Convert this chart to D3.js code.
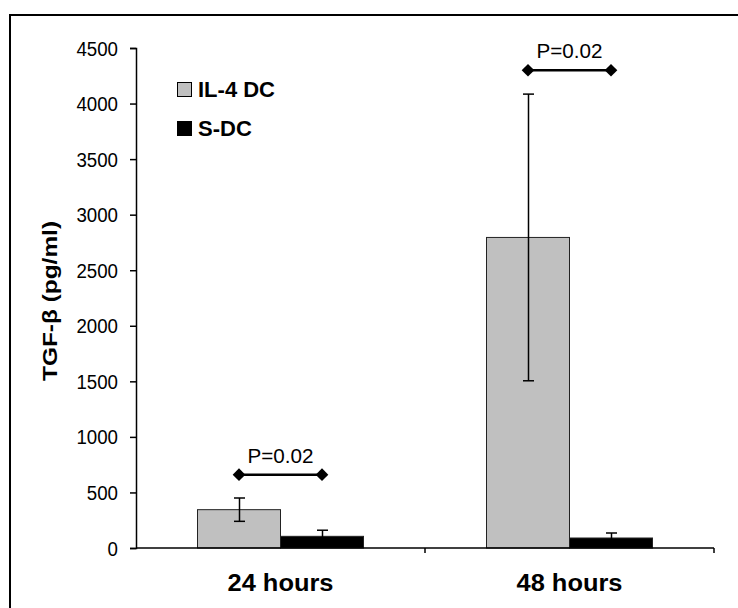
<!DOCTYPE html>
<html>
<head>
<meta charset="utf-8">
<script src="https://cdn.jsdelivr.net/npm/d3@7"></script>
<style>
  html, body { margin: 0; padding: 0; background: #fff; }
  svg { display: block; }
  text { font-family: Arial, "Liberation Sans", sans-serif; fill: #000; }
</style>
</head>
<body>
<script>
// TGF-β secretion by IL-4 DC and S-DC at 24 and 48 hours
const categories = ["24 hours", "48 hours"];
const seriesNames = ["IL-4 DC", "S-DC"];
const il4Values = [345, 2795];
const il4Errors = [105, 1290];
const sdcValues = [105, 90];
const sdcErrors = [55, 45];
const yTicks = [0, 500, 1000, 1500, 2000, 2500, 3000, 3500, 4000, 4500];
const pLabels = ["P=0.02", "P=0.02"];
const pLevels = [660, 4300];

const W = 738, H = 608;
const svg = d3.select("body").append("svg").attr("width", W).attr("height", H);

// frame (top and left edges)
svg.append("path")
  .attr("d", `M10,${H} L10,15 L${W},15`)
  .attr("fill", "none").attr("stroke", "#000").attr("stroke-width", 2);

const x0 = 136, x1 = 714, yBase = 548, yTop = 48;
const x = d3.scaleBand().domain(categories).range([x0, x1]).paddingInner(0).paddingOuter(0);
const xs = d3.scaleBand().domain(seriesNames).range([0, x.bandwidth()]).paddingInner(0).paddingOuter(0.741);
const y = d3.scaleLinear().domain([0, 4500]).range([yBase, yTop]);

const data = categories.map((c, i) => [
  { cat: c, s: seriesNames[0], v: il4Values[i], e: il4Errors[i], fill: "#c0c0c0" },
  { cat: c, s: seriesNames[1], v: sdcValues[i], e: sdcErrors[i], fill: "#000" }
]).flat();

// bars
svg.append("g").selectAll("rect").data(data).join("rect")
  .attr("x", d => x(d.cat) + xs(d.s))
  .attr("y", d => y(d.v))
  .attr("width", xs.bandwidth())
  .attr("height", d => y(0) - y(d.v))
  .attr("fill", d => d.fill)
  .attr("stroke", "#222").attr("stroke-width", 1);

// error bars
const eb = svg.append("g").attr("stroke", "#000").attr("stroke-width", 1.5).attr("fill", "none");
data.forEach(d => {
  const cx = Math.round(x(d.cat) + xs(d.s) + xs.bandwidth() / 2) + 0.5;
  const yHi = y(d.v + d.e), yLo = y(d.v - d.e);
  eb.append("line").attr("x1", cx).attr("x2", cx).attr("y1", yHi).attr("y2", yLo);
  eb.append("line").attr("x1", cx - 5.5).attr("x2", cx + 5.5).attr("y1", yHi).attr("y2", yHi);
  eb.append("line").attr("x1", cx - 5.5).attr("x2", cx + 5.5).attr("y1", yLo).attr("y2", yLo);
});

// y axis
const yAxis = svg.append("g").attr("transform", `translate(${x0},0)`)
  .call(d3.axisLeft(y).tickValues(yTicks).tickSize(6).tickPadding(12).tickFormat(d3.format("d")));
yAxis.select(".domain").attr("stroke", "#000").attr("stroke-width", 1.5);
yAxis.selectAll(".tick line").attr("stroke", "#000").attr("stroke-width", 1.5);
yAxis.selectAll(".tick text").attr("font-size", 20).attr("font-family", "Arial, 'Liberation Sans', sans-serif")
  .attr("fill", "#000").attr("dy", "0.35em")
  .attr("textLength", d => String(d).length * 10.4).attr("lengthAdjust", "spacingAndGlyphs");

// x axis line with category boundary ticks
const xg = svg.append("g").attr("stroke", "#000").attr("stroke-width", 1.5);
xg.append("line").attr("x1", x0).attr("x2", x1).attr("y1", yBase).attr("y2", yBase);
categories.forEach(c => {
  const bx = x(c) + x.bandwidth();
  xg.append("line").attr("x1", bx).attr("x2", bx).attr("y1", yBase).attr("y2", yBase + 5);
});

// category labels
svg.append("g").selectAll("text").data(categories).join("text")
  .attr("x", d => x(d) + x.bandwidth() / 2)
  .attr("y", 591)
  .attr("text-anchor", "middle")
  .attr("font-size", 23).attr("font-weight", "bold")
  .attr("textLength", 106).attr("lengthAdjust", "spacingAndGlyphs")
  .text(d => d);

// y axis title
svg.append("text")
  .attr("transform", `translate(57,301) rotate(-90)`)
  .attr("text-anchor", "middle")
  .attr("font-size", 21).attr("font-weight", "bold")
  .attr("textLength", 160).attr("lengthAdjust", "spacingAndGlyphs")
  .text("TGF-β (pg/ml)");

// significance brackets
const diamond = d3.symbol().type(d3.symbolSquare).size(80);
categories.forEach((c, i) => {
  const xa = x(c) + xs(seriesNames[0]) + xs.bandwidth() / 2;
  const xb = x(c) + xs(seriesNames[1]) + xs.bandwidth() / 2;
  const yy = y(pLevels[i]);
  svg.append("line").attr("x1", xa).attr("x2", xb).attr("y1", yy).attr("y2", yy)
    .attr("stroke", "#000").attr("stroke-width", 2.5);
  [xa, xb].forEach(px => {
    svg.append("path").attr("d", diamond)
      .attr("transform", `translate(${px},${yy}) rotate(45)`)
      .attr("fill", "#000");
  });
  svg.append("text")
    .attr("x", (xa + xb) / 2).attr("y", yy - 12)
    .attr("text-anchor", "middle").attr("font-size", 20)
    .attr("textLength", 66).attr("lengthAdjust", "spacingAndGlyphs")
    .text(pLabels[i]);
});

// legend
const legend = svg.append("g");
const legendFills = ["#c0c0c0", "#000"];
seriesNames.forEach((s, i) => {
  const ly = 82 + i * 39;
  legend.append("rect").attr("x", 177.5).attr("y", ly + 0.5).attr("width", 14).attr("height", 14)
    .attr("fill", legendFills[i]).attr("stroke", "#000").attr("stroke-width", 1);
  legend.append("text").attr("x", 198).attr("y", ly + 15)
    .attr("font-size", 22).attr("font-weight", "bold")
    .text(s);
});
</script>
</body>
</html>
